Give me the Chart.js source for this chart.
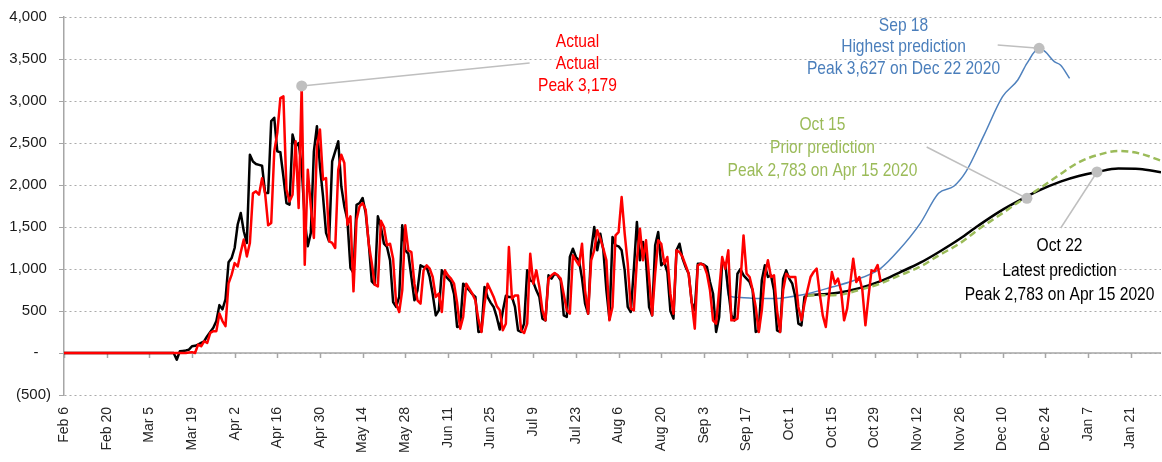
<!DOCTYPE html>
<html lang="en">
<head>
<meta charset="utf-8">
<title>Daily deaths - actual vs predictions</title>
<script src="https://cdn.jsdelivr.net/npm/chart.js@4.4.1/dist/chart.umd.min.js"></script>
<style>
    html, body { margin: 0; padding: 0; background: #fff; }
    #grafico { display: block; }
</style>
</head>
<body>
<canvas id="grafico" width="1162" height="462"></canvas>
<script>
// x = days counted from Feb 6 2020
const meses = ['Jan', 'Feb', 'Mar', 'Apr', 'May', 'Jun', 'Jul', 'Aug', 'Sep', 'Oct', 'Nov', 'Dec'];

// actual, one value per day from Feb 6
const actual = [
    0, 0, 0, 0, 0, 0, 0, 0, 0, 0,
    0, 0, 0, 0, 0, 0, 0, 0, 0, 0,
    0, 0, 0, 0, 0, 0, 0, 0, 0, 0,
    0, 0, 0, 0, 0, 0, 0, 0, 0, 0,
    0, 5, 10, 0, 100, 80, 140, 120, 240, 260,
    260, 470, 380, 320, 830, 930, 1070, 1030, 1200, 1350,
    1150, 1310, 1900, 1925, 1885, 2080, 1900, 1520, 1548, 2400,
    2620, 3035, 3055, 1945, 1805, 1885, 2520, 1726, 3179, 1051,
    2182, 1746, 1369, 2460, 2660, 2063, 2083, 1330, 1310, 1250,
    2182, 2360, 2262, 1528, 1627, 734, 1587, 1746, 1785, 1706,
    1300, 1071, 813, 793, 1575, 1500, 1282, 1301, 1123, 587,
    488, 746, 1520, 1222, 1202, 825, 627, 587, 984, 1044,
    1004, 905, 667, 706, 488, 984, 925, 885, 825, 600,
    290, 429, 825, 766, 706, 627, 400, 250, 587, 825,
    746, 667, 560, 508, 270, 349, 1262, 647, 686, 686,
    270, 238, 349, 1182, 825, 984, 786, 508, 389, 885,
    925, 952, 925, 885, 700, 508, 468, 1163, 1103, 1044,
    1301, 746, 468, 1103, 1222, 1460, 1361, 1242, 1103, 389,
    548, 1401, 1440, 1857, 1420, 1063, 528, 508, 1103, 1480,
    1103, 1341, 905, 448, 944, 1341, 1301, 1063, 1143, 706,
    468, 1222, 1202, 1143, 1044, 944, 600, 290, 1044, 1063,
    1044, 944, 746, 389, 349, 746, 1143, 1004, 1222, 389,
    389, 409, 850, 1400, 944, 905, 750, 548, 250, 508,
    925, 1103, 905, 925, 508, 250, 746, 944, 905, 905,
    905, 548, 389, 587, 750, 905, 964, 1004, 706, 448,
    310, 667, 964, 825, 885, 746, 389, 528, 825, 1123,
    845, 905, 746, 329, 667, 984, 975, 1047, 849
];

// Oct 22 model, fitted part, one value per day from Feb 6
const latestHistory = [
    0, 0, 0, 0, 0, 0, 0, 0, 0, 0,
    0, 0, 0, 0, 0, 0, 0, 0, 0, 0,
    0, 0, 0, 0, 0, 0, 0, 0, 0, 0,
    0, 0, 0, 0, 0, 0, 0, -80, 20, 25,
    30, 40, 80, 85, 100, 120, 140, 200, 250, 300,
    380, 570, 520, 640, 1080, 1130, 1250, 1530, 1667, 1450,
    1310, 2360, 2280, 2250, 2240, 2230, 1905, 1905, 2760, 2800,
    2400, 2390, 2100, 1785, 1765, 2600, 2460, 2500, 2220, 1587,
    1270, 1430, 2400, 2700, 2220, 1865, 1430, 1330, 2280, 2400,
    2520, 1985, 1745, 1587, 1012, 950, 1765, 1785, 1845, 1667,
    1310, 853, 813, 1627, 1500, 1301, 1262, 1103, 607, 548,
    667, 1520, 1222, 1182, 905, 627, 746, 1044, 1024, 1024,
    905, 700, 448, 508, 984, 925, 885, 845, 700, 310,
    320, 825, 786, 746, 700, 667, 250, 260, 786, 667,
    600, 548, 429, 280, 500, 680, 667, 667, 548, 270,
    250, 349, 984, 865, 845, 746, 667, 409, 389, 925,
    885, 944, 925, 865, 448, 429, 1143, 1242, 1143, 1103,
    885, 587, 468, 1222, 1500, 1222, 1420, 1222, 746, 400,
    1381, 1282, 1270, 1222, 984, 548, 488, 1000, 1560, 1103,
    1321, 1103, 548, 448, 1282, 1440, 1044, 1083, 964, 500,
    409, 1222, 1301, 1123, 1024, 944, 600, 508, 1063, 1063,
    1050, 1024, 845, 706, 250, 429, 1083, 1063, 746, 450,
    389, 944, 1000, 925, 885, 845, 746, 250, 270, 865,
    1044, 905, 925, 746, 270, 250, 885, 984, 885, 825,
    667, 349, 329, 667, 686
];

// Oct 22 model, projection
const latestDays   = [244, 254, 261, 268, 274, 281, 287, 294, 300, 307, 314, 320, 327, 333, 339, 346, 353, 360];
const latestValues = [686, 718, 772, 855, 955, 1075, 1200, 1360, 1515, 1683, 1825, 1935, 2040, 2107, 2155, 2195, 2190, 2151];

// Oct 15 model, projection
const priorDays   = [244, 254, 261, 268, 274, 281, 287, 294, 300, 307, 313, 320, 327, 333, 340, 346, 353, 360];
const priorValues = [686, 692, 750, 829, 920, 1028, 1160, 1306, 1470, 1640, 1790, 1955, 2130, 2270, 2365, 2405, 2375, 2290];

// Sep 18 model, projection
const highestDays   = [217, 218, 222, 228, 234, 238, 244, 252, 259, 268, 274, 281, 287, 292, 296, 302, 308, 313, 316, 320, 322, 325, 327, 330];
const highestValues = [1063, 686, 660, 648, 648, 667, 706, 785, 860, 1008, 1226, 1544, 1901, 1985, 2159, 2600, 3051, 3250, 3448, 3627, 3587, 3468, 3428, 3270];

const pontos = (dias, valores) => dias.map((d, i) => ({ x: d, y: valores[i] }));
const diarios = valores => valores.map((v, i) => ({ x: i, y: v }));

const rotuloData = dia => {
    const d = new Date(2020, 1, 6 + dia);
    return `${meses[d.getMonth()]} ${d.getDate()}`;
};

const rotuloValor = v => {
    if (v === 0) return '-   ';
    if (v < 0) return `(${Math.abs(v).toLocaleString('en-US')})`;
    return `${v.toLocaleString('en-US')} `;
};

const picoActual = Math.max(...actual);
const picoHighest = Math.max(...highestValues);

const notas = [
    { cor: '#ff0000', ponto: [actual.indexOf(picoActual), picoActual], fim: [152.8, 3452], texto: [168.5, 3702], passo: 21.7,
      linhas: ['Actual', 'Actual', `Peak ${picoActual.toLocaleString('en-US')}`] },
    { cor: '#4a7ebb', ponto: [highestDays[highestValues.indexOf(picoHighest)], picoHighest], fim: [306.4, 3667], texto: [275.5, 3900], passo: 21.7,
      linhas: ['Sep 18', 'Highest prediction', `Peak ${picoHighest.toLocaleString('en-US')} on Dec 22 2020`] },
    { cor: '#9bbb59', ponto: [316, 1841], fim: [283.1, 2452], texto: [248.9, 2714], passo: 23,
      linhas: ['Oct 15', 'Prior prediction', 'Peak 2,783 on Apr 15 2020'] },
    { cor: '#000000', ponto: [339, 2155], fim: [327.1, 1488], texto: [326.7, 1280], passo: 24.8,
      linhas: ['Oct 22', 'Latest prediction', 'Peak 2,783 on Apr 15 2020'] }
];

// axis line at zero with its tick marks
const eixoZero = {
    id: 'eixoZero',
    beforeDatasetsDraw(chart) {
        const { ctx, chartArea, scales: { x, y } } = chart;
        const y0 = y.getPixelForValue(0);
        ctx.save();
        ctx.strokeStyle = '#a6a6a6';
        ctx.lineWidth = 1.5;
        ctx.beginPath();
        ctx.moveTo(chartArea.left, y0);
        ctx.lineTo(chartArea.right, y0);
        x.ticks.forEach(t => {
            const px = Math.round(x.getPixelForValue(t.value)) + 0.5;
            ctx.moveTo(px, y0);
            ctx.lineTo(px, y0 + 5);
        });
        ctx.stroke();
        ctx.restore();
    }
};

const anotacoes = {
    id: 'anotacoes',
    afterDatasetsDraw(chart) {
        const { ctx, scales: { x, y } } = chart;
        notas.forEach(n => {
            const px = x.getPixelForValue(n.ponto[0]);
            const py = y.getPixelForValue(n.ponto[1]);
            ctx.save();
            ctx.strokeStyle = '#bfbfbf';
            ctx.lineWidth = 1.5;
            ctx.beginPath();
            ctx.moveTo(x.getPixelForValue(n.fim[0]), y.getPixelForValue(n.fim[1]));
            ctx.lineTo(px, py);
            ctx.stroke();
            ctx.fillStyle = '#bfbfbf';
            ctx.beginPath();
            ctx.arc(px, py, 5.5, 0, Math.PI * 2);
            ctx.fill();

            ctx.fillStyle = n.cor;
            ctx.font = '19px "Liberation Sans", Arial, sans-serif';
            ctx.textAlign = 'center';
            ctx.textBaseline = 'middle';
            const tx = x.getPixelForValue(n.texto[0]);
            const ty = y.getPixelForValue(n.texto[1]);
            n.linhas.forEach((linha, i) => {
                ctx.save();
                ctx.translate(tx, ty + i * n.passo);
                ctx.scale(0.82, 1);
                ctx.fillText(linha, 0, 0);
                ctx.restore();
            });
            ctx.restore();
        });
    }
};

Chart.defaults.font.family = '"Liberation Sans", Arial, sans-serif';

new Chart(document.getElementById('grafico').getContext('2d'), {
    type: 'line',
    data: {
        datasets: [{
            label: 'Actual',
            data: diarios(actual),
            borderColor: '#ff0000',
            borderWidth: 2.5
        }, {
            label: 'Oct 15 prior prediction',
            data: pontos(priorDays, priorValues),
            borderColor: '#9bbb59',
            borderWidth: 2.5,
            borderDash: [7, 4],
            cubicInterpolationMode: 'monotone'
        }, {
            label: 'Oct 22 latest prediction',
            data: diarios(latestHistory),
            borderColor: '#000000',
            borderWidth: 2.5
        }, {
            label: 'Oct 22 latest prediction (forecast)',
            data: pontos(latestDays, latestValues),
            borderColor: '#000000',
            borderWidth: 2.5,
            cubicInterpolationMode: 'monotone'
        }, {
            label: 'Sep 18 highest prediction',
            data: pontos(highestDays, highestValues),
            borderColor: '#4f81bd',
            borderWidth: 1.5,
            cubicInterpolationMode: 'monotone'
        }]
    },
    options: {
        responsive: false,
        animation: false,
        devicePixelRatio: 1,
        parsing: false,
        elements: {
            point: { radius: 0 },
            line: { tension: 0, borderJoinStyle: 'round', fill: false }
        },
        layout: {
            padding: { top: 17, right: 1, left: 0, bottom: 0 }
        },
        plugins: {
            legend: { display: false },
            tooltip: { enabled: false }
        },
        scales: {
            x: {
                type: 'linear',
                min: 0,
                max: 360,
                afterFit: scale => { scale.height = 67; },
                grid: { display: false, drawTicks: false },
                border: { display: false },
                ticks: {
                    stepSize: 14,
                    includeBounds: false,
                    autoSkip: false,
                    minRotation: 90,
                    maxRotation: 90,
                    padding: 12,
                    color: '#262626',
                    font: { size: 14 },
                    callback: v => rotuloData(v)
                }
            },
            y: {
                min: -500,
                max: 4000,
                afterFit: scale => { scale.width = 64; },
                grid: {
                    color: '#ababab',
                    tickColor: '#a6a6a6',
                    tickLength: 5
                },
                border: { display: true, color: '#a6a6a6', width: 1.5, dash: [2, 3] },
                ticks: {
                    stepSize: 500,
                    padding: 8,
                    color: '#1a1a1a',
                    font: { size: 15 },
                    callback: v => rotuloValor(v)
                }
            }
        }
    },
    plugins: [eixoZero, anotacoes]
});
</script>
</body>
</html>
